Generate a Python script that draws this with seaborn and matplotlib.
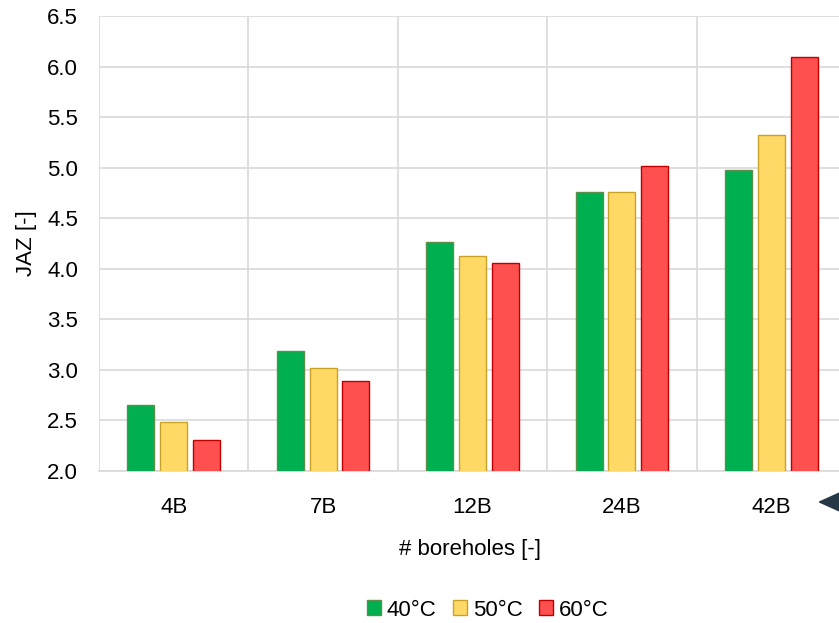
import matplotlib
matplotlib.use("Agg")
import matplotlib.pyplot as plt
from matplotlib.patches import FancyArrowPatch
import seaborn as sns
import pandas as pd

categories = ["4B", "7B", "12B", "24B", "42B"]
series = ["40°C", "50°C", "60°C"]
jaz_40 = [2.65, 3.19, 4.26, 4.76, 4.98]
jaz_50 = [2.48, 3.02, 4.13, 4.76, 5.32]
jaz_60 = [2.31, 2.89, 4.06, 5.02, 6.09]
y_ticks = [2.0, 2.5, 3.0, 3.5, 4.0, 4.5, 5.0, 5.5, 6.0, 6.5]

fills = ["#00B050", "#FFD966", "#FF5050"]
edges = ["#5E8F4A", "#C9A227", "#C00000"]

df = pd.DataFrame({
    "cat": categories * 3,
    "temp": [series[0]] * 5 + [series[1]] * 5 + [series[2]] * 5,
    "jaz": jaz_40 + jaz_50 + jaz_60,
})

sns.set_theme(style="white")
plt.rcParams["font.family"] = ["Liberation Sans", "DejaVu Sans"]
plt.rcParams["text.color"] = "black"
plt.rcParams["axes.labelcolor"] = "black"

fig = plt.figure(figsize=(8.39, 6.23), dpi=100)
ax = fig.add_axes([99 / 839, 1 - 471 / 623, 747 / 839, 455 / 623])

sns.barplot(data=df, x="cat", y="jaz", hue="temp", order=categories,
            hue_order=series, palette=fills, saturation=1, width=0.66, gap=0.18,
            ax=ax, legend=False, zorder=3)

# colour each bar's outline by its series
for cont, ec in zip(ax.containers, edges):
    for bar in cont:
        bar.set_edgecolor(ec)
        bar.set_linewidth(1.0)

ax.set_ylim(2.0, 6.5)
ax.set_xlim(-0.5, 4.5)
ax.set_yticks(y_ticks)
ax.set_yticklabels([f"{v:.1f}" for v in y_ticks])
ax.set_xticks(range(len(categories)))
ax.set_xticklabels(categories)
ax.set_xticks([i - 0.5 for i in range(len(categories) + 1)], minor=True)
ax.xaxis.grid(True, which="minor", color="#D9D9D9", linewidth=1.2, zorder=0)
ax.yaxis.grid(True, color="#D9D9D9", linewidth=1.2, zorder=0)
ax.set_axisbelow(True)
ax.tick_params(axis="x", which="major", length=0, pad=19, labelsize=16, labelcolor="black")
ax.tick_params(axis="x", which="minor", length=8, width=1.2, color="#D9D9D9")
ax.tick_params(axis="y", length=0, pad=15, labelsize=16, labelcolor="black")
for side in ["top", "right", "left"]:
    ax.spines[side].set_visible(False)
ax.spines["bottom"].set_color("#D9D9D9")
ax.spines["bottom"].set_linewidth(1.2)

ax.set_xlabel("# boreholes [-]", fontsize=16)
ax.xaxis.set_label_coords(371 / 747, -68 / 455)
ax.set_ylabel("JAZ [-]", fontsize=16)
ax.yaxis.set_label_coords(-62 / 747, 0.5)

handles = [plt.Rectangle((0, 0), 1, 1, facecolor=f, edgecolor=e, linewidth=1.0)
           for f, e in zip(fills, edges)]
fig.legend(handles, series, loc="center", bbox_to_anchor=(488 / 839, 1 - 610 / 623),
           ncol=3, frameon=False, fontsize=16, handlelength=0.62, handleheight=0.62,
           handletextpad=0.27, columnspacing=0.75)

arrow = FancyArrowPatch((860 / 839, 1 - 502 / 623), (815 / 839, 1 - 502 / 623),
                        transform=fig.transFigure, arrowstyle="-|>,head_length=1.0,head_width=0.45",
                        mutation_scale=18, color="#263745", linewidth=1.5)
fig.patches.append(arrow)

fig.savefig("out.png", dpi=100)
